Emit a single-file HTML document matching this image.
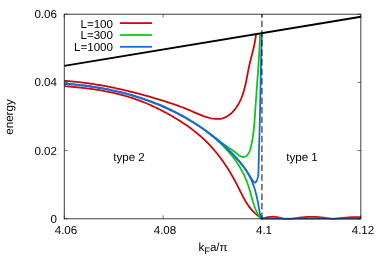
<!DOCTYPE html>
<html><head><meta charset="utf-8"><title>chart</title><style>
html,body{margin:0;padding:0;background:#fff}
body{width:382px;height:268px;position:relative;overflow:hidden;font-family:"Liberation Sans",sans-serif;font-size:11.6px;color:#000}
.t{position:absolute;white-space:nowrap;line-height:12px;will-change:transform;text-rendering:geometricPrecision}
.r{text-align:right}
.c{text-align:center}
</style></head><body>
<svg width="382" height="268" viewBox="0 0 382 268" style="position:absolute;left:0;top:0">
<rect width="382" height="268" fill="#fff"/>
<defs><clipPath id="c"><rect x="64.25" y="10" width="297.00" height="212"/></clipPath></defs>
<g clip-path="url(#c)">
<path d="M60.02,80.58 L61.32,80.65 L62.63,80.73 L63.93,80.81 L65.24,80.89 L66.55,80.98 L67.85,81.08 L69.16,81.19 L70.46,81.29 L71.77,81.41 L73.07,81.53 L74.38,81.66 L75.68,81.79 L76.99,81.92 L78.29,82.06 L79.60,82.21 L80.90,82.36 L82.21,82.52 L83.51,82.68 L84.81,82.85 L86.12,83.02 L87.42,83.20 L88.72,83.38 L90.03,83.57 L91.33,83.76 L92.63,83.96 L93.93,84.16 L95.23,84.37 L96.53,84.58 L97.83,84.79 L99.13,85.01 L100.43,85.24 L101.73,85.46 L103.02,85.70 L104.32,85.93 L105.62,86.18 L106.91,86.42 L108.21,86.67 L109.50,86.93 L110.80,87.19 L112.09,87.45 L113.38,87.71 L114.67,87.98 L115.96,88.26 L117.25,88.54 L118.54,88.82 L119.83,89.10 L121.11,89.39 L122.40,89.69 L123.68,89.98 L124.97,90.28 L126.25,90.59 L127.53,90.89 L128.81,91.20 L130.09,91.52 L131.37,91.84 L132.65,92.16 L133.93,92.48 L135.20,92.81 L136.47,93.14 L137.75,93.47 L139.02,93.81 L140.29,94.15 L141.56,94.49 L142.83,94.83 L144.09,95.18 L145.36,95.53 L146.62,95.88 L147.88,96.24 L149.14,96.60 L150.40,96.96 L151.66,97.32 L152.92,97.69 L154.17,98.06 L155.43,98.43 L156.68,98.80 L157.93,99.18 L159.18,99.55 L160.42,99.93 L161.67,100.32 L162.91,100.70 L164.16,101.09 L165.40,101.48 L166.64,101.88 L167.88,102.27 L169.11,102.68 L170.35,103.08 L171.58,103.49 L172.82,103.91 L174.05,104.33 L175.28,104.76 L176.52,105.20 L177.75,105.64 L178.98,106.08 L180.21,106.54 L181.43,107.00 L182.66,107.46 L183.89,107.94 L185.12,108.43 L186.35,108.92 L187.57,109.42 L188.80,109.93 L190.03,110.45 L191.26,110.98 L192.48,111.52 L193.71,112.06 L194.94,112.59 L196.18,113.13 L197.41,113.66 L198.65,114.19 L199.88,114.70 L201.13,115.20 L202.37,115.68 L203.62,116.14 L204.88,116.57 L206.14,116.98 L207.40,117.36 L208.67,117.71 L209.95,118.02 L211.23,118.30 L212.52,118.53 L213.81,118.72 L215.10,118.85 L216.39,118.93 L217.67,118.94 L218.94,118.89 L220.20,118.77 L221.43,118.56 L222.65,118.28 L223.85,117.91 L225.02,117.45 L226.17,116.90 L227.29,116.28 L228.37,115.57 L229.43,114.80 L230.46,113.97 L231.45,113.08 L232.41,112.14 L233.33,111.16 L234.22,110.14 L235.07,109.09 L235.88,108.02 L236.65,106.93 L237.38,105.81 L238.08,104.69 L238.73,103.54 L239.36,102.38 L239.95,101.21 L240.51,100.02 L241.05,98.82 L241.55,97.61 L242.02,96.39 L242.48,95.15 L242.90,93.91 L243.31,92.65 L243.69,91.39 L244.06,90.12 L244.40,88.85 L244.73,87.56 L245.05,86.28 L245.35,84.98 L245.64,83.69 L245.92,82.39 L246.19,81.08 L246.45,79.78 L246.71,78.47 L246.96,77.17 L247.21,75.86 L247.46,74.56 L247.71,73.26 L247.95,71.96 L248.21,70.66 L248.46,69.37 L248.72,68.09 L248.99,66.80 L249.27,65.53 L249.56,64.26 L249.85,63.00 L250.15,61.75 L250.46,60.49 L250.77,59.24 L251.09,58.00 L251.41,56.75 L251.73,55.50 L252.05,54.26 L252.37,53.01 L252.68,51.76 L252.99,50.50 L253.30,49.24 L253.60,47.98 L253.89,46.70 L254.17,45.42 L254.44,44.14 L254.70,42.84 L254.94,41.53 L255.17,40.21 L255.39,38.88 L255.59,37.53 L255.77,36.17 L255.93,34.80" fill="none" stroke="#cc0808" stroke-width="1.8" stroke-linejoin="round"/>
<path d="M59.95,85.71 L61.24,85.82 L62.53,85.94 L63.82,86.05 L65.11,86.16 L66.40,86.28 L67.69,86.39 L68.98,86.51 L70.27,86.63 L71.56,86.75 L72.84,86.87 L74.13,86.99 L75.41,87.12 L76.69,87.24 L77.98,87.37 L79.26,87.50 L80.54,87.64 L81.82,87.78 L83.10,87.92 L84.37,88.07 L85.65,88.22 L86.92,88.37 L88.20,88.53 L89.47,88.69 L90.74,88.86 L92.01,89.03 L93.28,89.20 L94.55,89.39 L95.81,89.58 L97.08,89.77 L98.34,89.97 L99.60,90.18 L100.86,90.39 L102.12,90.61 L103.38,90.83 L104.64,91.07 L105.89,91.30 L107.14,91.55 L108.39,91.80 L109.64,92.06 L110.89,92.33 L112.14,92.60 L113.38,92.88 L114.62,93.16 L115.87,93.46 L117.10,93.76 L118.34,94.06 L119.58,94.37 L120.81,94.69 L122.04,95.02 L123.27,95.35 L124.50,95.70 L125.73,96.04 L126.95,96.40 L128.17,96.76 L129.39,97.14 L130.61,97.52 L131.83,97.91 L133.04,98.30 L134.25,98.71 L135.46,99.12 L136.67,99.55 L137.87,99.98 L139.07,100.42 L140.27,100.87 L141.47,101.33 L142.67,101.80 L143.86,102.28 L145.05,102.77 L146.24,103.27 L147.43,103.77 L148.61,104.28 L149.79,104.80 L150.97,105.33 L152.14,105.87 L153.32,106.41 L154.49,106.96 L155.65,107.52 L156.82,108.08 L157.98,108.65 L159.14,109.23 L160.30,109.81 L161.45,110.40 L162.60,110.99 L163.75,111.59 L164.90,112.19 L166.04,112.81 L167.17,113.42 L168.31,114.05 L169.44,114.67 L170.57,115.31 L171.69,115.95 L172.81,116.60 L173.92,117.25 L175.03,117.91 L176.14,118.58 L177.24,119.25 L178.33,119.93 L179.43,120.61 L180.51,121.30 L181.59,122.00 L182.67,122.71 L183.74,123.42 L184.80,124.14 L185.86,124.86 L186.92,125.59 L187.96,126.33 L189.00,127.08 L190.04,127.83 L191.07,128.59 L192.09,129.36 L193.11,130.13 L194.11,130.91 L195.12,131.70 L196.11,132.50 L197.10,133.30 L198.08,134.12 L199.05,134.94 L200.02,135.77 L200.98,136.60 L201.93,137.45 L202.87,138.31 L203.81,139.17 L204.73,140.04 L205.65,140.93 L206.56,141.82 L207.46,142.72 L208.35,143.63 L209.24,144.55 L210.11,145.48 L210.98,146.42 L211.84,147.37 L212.69,148.32 L213.53,149.29 L214.37,150.26 L215.20,151.24 L216.01,152.23 L216.82,153.22 L217.63,154.22 L218.42,155.23 L219.21,156.25 L219.98,157.28 L220.75,158.31 L221.52,159.34 L222.27,160.39 L223.02,161.44 L223.76,162.50 L224.49,163.56 L225.21,164.63 L225.93,165.70 L226.64,166.78 L227.34,167.86 L228.03,168.95 L228.71,170.05 L229.39,171.15 L230.06,172.25 L230.73,173.36 L231.38,174.47 L232.03,175.59 L232.67,176.71 L233.30,177.83 L233.93,178.96 L234.55,180.09 L235.16,181.22 L235.77,182.36 L236.37,183.50 L236.96,184.64 L237.54,185.79 L238.12,186.94 L238.69,188.08 L239.26,189.23 L239.82,190.38 L240.39,191.53 L240.95,192.67 L241.52,193.81 L242.10,194.95 L242.68,196.08 L243.27,197.21 L243.88,198.33 L244.49,199.44 L245.12,200.54 L245.76,201.63 L246.43,202.70 L247.11,203.77 L247.81,204.82 L248.54,205.86 L249.29,206.89 L250.07,207.89 L250.88,208.89 L251.71,209.86 L252.58,210.81 L253.48,211.74 L254.42,212.66 L255.38,213.55 L256.36,214.41 L257.36,215.26 L258.39,216.07 L259.43,216.87 L260.48,217.63 L261.55,218.37" fill="none" stroke="#cc0808" stroke-width="1.8" stroke-linejoin="round"/>
<path d="M261.00,218.95 L262.00,218.79 L263.00,218.48 L264.00,218.18 L265.00,217.90 L266.00,217.63 L267.00,217.39 L268.00,217.19 L269.00,217.02 L270.00,216.89 L271.00,216.80 L272.00,216.76 L273.00,216.76 L274.00,216.80 L275.00,216.89 L276.00,217.02 L277.00,217.19 L278.00,217.39 L279.00,217.63 L280.00,217.90 L281.00,218.18 L282.00,218.48 L283.00,218.79 L284.00,218.95 L285.00,218.95 L286.00,218.95 L287.00,218.95 L288.00,218.95 L289.00,218.95 L290.00,218.95 L291.00,218.95 L292.00,218.79 L293.00,218.63 L294.00,218.47 L295.00,218.32 L296.00,218.16 L297.00,218.02 L298.00,217.88 L299.00,217.74 L300.00,217.61 L301.00,217.49 L302.00,217.38 L303.00,217.28 L304.00,217.19 L305.00,217.11 L306.00,217.03 L307.00,216.97 L308.00,216.93 L309.00,216.89 L310.00,216.86 L311.00,216.85 L312.00,216.85 L313.00,216.86 L314.00,216.89 L315.00,216.93 L316.00,216.97 L317.00,217.03 L318.00,217.11 L319.00,217.19 L320.00,217.28 L321.00,217.38 L322.00,217.49 L323.00,217.61 L324.00,217.74 L325.00,217.88 L326.00,218.02 L327.00,218.16 L328.00,218.32 L329.00,218.47 L330.00,218.63 L331.00,218.79 L332.00,218.95 L333.00,218.95 L334.00,218.95 L335.00,218.83 L336.00,218.70 L337.00,218.58 L338.00,218.46 L339.00,218.34 L340.00,218.23 L341.00,218.12 L342.00,218.01 L343.00,217.90 L344.00,217.80 L345.00,217.71 L346.00,217.62 L347.00,217.54 L348.00,217.46 L349.00,217.39 L350.00,217.33 L351.00,217.27 L352.00,217.22 L353.00,217.18 L354.00,217.15 L355.00,217.13 L356.00,217.11 L357.00,217.10 L358.00,217.10 L359.00,217.11 L360.00,217.13 L361.00,217.15" fill="none" stroke="#cc0808" stroke-width="1.8" stroke-linejoin="round"/>
<path d="M206.27,131.22 L206.98,131.72 L207.69,132.23 L208.39,132.74 L209.10,133.25 L209.80,133.77 L210.51,134.28 L211.21,134.80 L211.91,135.32 L212.61,135.84 L213.31,136.37 L214.01,136.90 L214.71,137.42 L215.41,137.95 L216.11,138.48 L216.80,139.01 L217.50,139.54 L218.20,140.06 L218.89,140.59 L219.59,141.11 L220.28,141.64 L220.98,142.16 L221.67,142.68 L222.36,143.19 L223.06,143.70 L223.75,144.21 L224.44,144.72 L225.13,145.22 L225.83,145.71 L226.52,146.20 L227.21,146.69 L227.90,147.17 L228.59,147.64 L229.28,148.12 L229.98,148.59 L230.67,149.06 L231.36,149.54 L232.06,150.02 L232.76,150.51 L233.47,151.01 L234.17,151.52 L234.88,152.05 L235.60,152.58 L236.32,153.14 L237.04,153.71 L237.77,154.29 L238.50,154.86 L239.24,155.39 L239.99,155.88 L240.74,156.30 L241.50,156.64 L242.27,156.87 L243.05,156.98 L243.83,156.95 L244.62,156.78 L245.39,156.46 L246.12,156.03 L246.79,155.49 L247.40,154.86 L247.95,154.17 L248.45,153.42 L248.90,152.64 L249.29,151.83 L249.64,151.01 L249.95,150.20 L250.22,149.37 L250.46,148.55 L250.69,147.72 L250.89,146.88 L251.09,146.04 L251.28,145.21 L251.46,144.36 L251.64,143.52 L251.81,142.67 L251.98,141.82 L252.13,140.97 L252.29,140.12 L252.43,139.27 L252.58,138.42 L252.71,137.56 L252.84,136.70 L252.97,135.85 L253.09,134.99 L253.21,134.13 L253.32,133.28 L253.43,132.42 L253.53,131.56 L253.63,130.70 L253.73,129.84 L253.82,128.98 L253.91,128.12 L254.00,127.26 L254.08,126.40 L254.16,125.54 L254.24,124.68 L254.31,123.82 L254.38,122.96 L254.45,122.10 L254.52,121.24 L254.59,120.37 L254.65,119.51 L254.71,118.65 L254.77,117.79 L254.83,116.93 L254.89,116.06 L254.95,115.20 L255.01,114.34 L255.06,113.48 L255.12,112.61 L255.17,111.75 L255.23,110.89 L255.28,110.03 L255.34,109.16 L255.39,108.30 L255.45,107.44 L255.51,106.57 L255.56,105.71 L255.62,104.85 L255.68,103.99 L255.74,103.12 L255.80,102.26 L255.86,101.40 L255.92,100.54 L255.98,99.67 L256.04,98.81 L256.10,97.95 L256.16,97.09 L256.22,96.22 L256.28,95.36 L256.35,94.50 L256.41,93.64 L256.47,92.78 L256.53,91.91 L256.60,91.05 L256.66,90.19 L256.72,89.33 L256.79,88.46 L256.85,87.60 L256.91,86.74 L256.98,85.88 L257.04,85.02 L257.11,84.15 L257.17,83.29 L257.23,82.43 L257.30,81.57 L257.36,80.70 L257.42,79.84 L257.49,78.98 L257.55,78.12 L257.61,77.26 L257.67,76.39 L257.74,75.53 L257.80,74.67 L257.86,73.81 L257.92,72.94 L257.98,72.08 L258.04,71.22 L258.11,70.36 L258.17,69.49 L258.23,68.63 L258.28,67.77 L258.34,66.91 L258.40,66.04 L258.46,65.18 L258.52,64.32 L258.57,63.46 L258.63,62.59 L258.69,61.73 L258.74,60.87 L258.80,60.01 L258.85,59.14 L258.90,58.28 L258.96,57.42 L259.01,56.55 L259.06,55.69 L259.11,54.83 L259.16,53.97 L259.21,53.10 L259.26,52.24 L259.31,51.38 L259.35,50.51 L259.40,49.65 L259.44,48.79 L259.49,47.92 L259.53,47.06 L259.57,46.20 L259.61,45.33 L259.65,44.47 L259.69,43.60 L259.73,42.74 L259.77,41.88 L259.80,41.01 L259.84,40.15 L259.87,39.28 L259.90,38.42 L259.93,37.56 L259.96,36.69 L259.99,35.83 L260.02,34.96 L260.05,34.10" fill="none" stroke="#10c810" stroke-width="1.8" stroke-linejoin="round"/>
<path d="M206.35,131.18 L206.78,131.50 L207.20,131.82 L207.62,132.14 L208.03,132.47 L208.45,132.79 L208.87,133.12 L209.28,133.45 L209.70,133.78 L210.11,134.11 L210.52,134.44 L210.93,134.77 L211.34,135.11 L211.75,135.45 L212.16,135.78 L212.56,136.12 L212.97,136.46 L213.37,136.81 L213.78,137.15 L214.18,137.49 L214.58,137.84 L214.98,138.19 L215.38,138.54 L215.78,138.89 L216.17,139.24 L216.57,139.59 L216.96,139.95 L217.35,140.31 L217.74,140.66 L218.14,141.02 L218.52,141.38 L218.91,141.75 L219.30,142.11 L219.68,142.48 L220.07,142.84 L220.45,143.21 L220.83,143.58 L221.21,143.95 L221.59,144.32 L221.97,144.70 L222.35,145.07 L222.72,145.45 L223.10,145.83 L223.47,146.21 L223.84,146.59 L224.21,146.98 L224.58,147.36 L224.95,147.75 L225.31,148.13 L225.67,148.52 L226.04,148.91 L226.40,149.31 L226.76,149.70 L227.12,150.09 L227.47,150.49 L227.83,150.89 L228.18,151.29 L228.53,151.69 L228.88,152.09 L229.23,152.50 L229.57,152.90 L229.91,153.31 L230.26,153.72 L230.60,154.12 L230.93,154.54 L231.27,154.95 L231.61,155.36 L231.94,155.78 L232.27,156.19 L232.60,156.61 L232.92,157.03 L233.25,157.45 L233.57,157.88 L233.89,158.30 L234.20,158.72 L234.52,159.15 L234.83,159.58 L235.14,160.01 L235.45,160.44 L235.76,160.87 L236.06,161.31 L236.36,161.74 L236.66,162.18 L236.96,162.61 L237.25,163.05 L237.55,163.49 L237.83,163.94 L238.12,164.38 L238.41,164.82 L238.69,165.27 L238.97,165.72 L239.24,166.17 L239.52,166.62 L239.79,167.07 L240.06,167.52 L240.32,167.98 L240.59,168.43 L240.85,168.89 L241.11,169.35 L241.36,169.81 L241.62,170.27 L241.87,170.73 L242.12,171.19 L242.36,171.66 L242.61,172.12 L242.85,172.59 L243.08,173.06 L243.32,173.53 L243.55,174.00 L243.78,174.47 L244.01,174.95 L244.23,175.42 L244.46,175.90 L244.68,176.38 L244.89,176.86 L245.11,177.34 L245.32,177.82 L245.53,178.30 L245.73,178.79 L245.94,179.27 L246.14,179.76 L246.33,180.25 L246.53,180.74 L246.72,181.23 L246.91,181.72 L247.10,182.22 L247.28,182.71 L247.46,183.21 L247.64,183.70 L247.82,184.20 L247.99,184.70 L248.16,185.20 L248.33,185.71 L248.49,186.21 L248.65,186.71 L248.81,187.22 L248.97,187.73 L249.12,188.23 L249.28,188.74 L249.43,189.25 L249.58,189.76 L249.72,190.27 L249.87,190.79 L250.01,191.30 L250.16,191.81 L250.30,192.33 L250.44,192.84 L250.58,193.35 L250.72,193.87 L250.86,194.38 L251.00,194.89 L251.14,195.41 L251.28,195.92 L251.42,196.44 L251.56,196.95 L251.70,197.46 L251.84,197.98 L251.98,198.49 L252.13,199.00 L252.27,199.51 L252.42,200.02 L252.57,200.53 L252.72,201.04 L252.87,201.55 L253.02,202.06 L253.18,202.56 L253.33,203.07 L253.49,203.57 L253.66,204.07 L253.82,204.58 L253.99,205.07 L254.16,205.57 L254.33,206.07 L254.51,206.56 L254.69,207.06 L254.88,207.55 L255.07,208.04 L255.26,208.53 L255.46,209.01 L255.66,209.50 L255.87,209.98 L256.08,210.46 L256.29,210.94 L256.51,211.41 L256.74,211.88 L256.97,212.35 L257.21,212.82 L257.45,213.28 L257.70,213.75 L257.95,214.21 L258.21,214.66 L258.48,215.11 L258.75,215.56 L259.03,216.01 L259.31,216.46 L259.61,216.90 L259.91,217.33 L260.21,217.77 L260.53,218.20 L260.85,218.63" fill="none" stroke="#10c810" stroke-width="1.8" stroke-linejoin="round"/>
<path d="M261,218.55 H360.8" fill="none" stroke="#10c810" stroke-width="1.5" stroke-linejoin="round"/>
<path d="M60.06,83.18 L61.94,83.30 L63.82,83.43 L65.70,83.56 L67.58,83.71 L69.46,83.87 L71.35,84.04 L73.23,84.21 L75.12,84.40 L77.00,84.59 L78.89,84.80 L80.77,85.02 L82.66,85.24 L84.54,85.48 L86.43,85.72 L88.32,85.98 L90.20,86.24 L92.08,86.52 L93.97,86.81 L95.85,87.11 L97.73,87.42 L99.61,87.74 L101.49,88.07 L103.37,88.41 L105.24,88.76 L107.12,89.12 L108.99,89.50 L110.86,89.89 L112.72,90.28 L114.59,90.69 L116.45,91.11 L118.31,91.55 L120.17,91.99 L122.02,92.45 L123.87,92.92 L125.72,93.40 L127.56,93.89 L129.40,94.39 L131.24,94.91 L133.07,95.44 L134.90,95.98 L136.73,96.54 L138.55,97.10 L140.36,97.68 L142.18,98.28 L143.98,98.88 L145.78,99.50 L147.58,100.13 L149.37,100.78 L151.16,101.44 L152.94,102.11 L154.72,102.79 L156.49,103.49 L158.25,104.20 L160.01,104.93 L161.76,105.67 L163.51,106.42 L165.25,107.19 L166.98,107.97 L168.71,108.77 L170.43,109.58 L172.14,110.41 L173.85,111.25 L175.55,112.10 L177.24,112.97 L178.92,113.85 L180.60,114.75 L182.26,115.66 L183.92,116.59 L185.58,117.53 L187.22,118.49 L188.86,119.46 L190.48,120.45 L192.10,121.45 L193.71,122.46 L195.31,123.49 L196.90,124.53 L198.48,125.59 L200.06,126.66 L201.62,127.74 L203.17,128.84 L204.72,129.95 L206.25,131.08 L207.77,132.21 L209.29,133.37 L210.79,134.53 L212.28,135.71 L213.76,136.90 L215.23,138.10 L216.69,139.32 L218.14,140.55 L219.58,141.79 L221.01,143.04 L222.42,144.31 L223.83,145.59 L225.22,146.88 L226.60,148.19 L227.96,149.50 L229.32,150.83 L230.66,152.17 L231.99,153.52 L233.31,154.89 L234.61,156.26 L235.90,157.65 L237.17,159.06 L238.43,160.48 L239.67,161.92 L240.89,163.38 L242.09,164.86 L243.27,166.36 L244.43,167.89 L245.56,169.44 L246.67,171.02 L247.75,172.63 L248.81,174.26 L249.84,175.93 L250.86,177.60 L251.90,179.26 L252.99,180.86 L254.15,182.34 L255.32,182.68 L256.34,181.37 L257.12,179.77 L257.68,178.05 L258.06,176.23 L258.31,174.34 L258.44,172.39 L258.52,170.42 L258.56,168.43 L258.60,166.46 L258.64,164.50 L258.69,162.55 L258.73,160.60 L258.78,158.67 L258.83,156.75 L258.89,154.83 L258.94,152.92 L259.00,151.02 L259.05,149.12 L259.11,147.23 L259.16,145.34 L259.22,143.45 L259.27,141.56 L259.33,139.68 L259.38,137.79 L259.43,135.91 L259.49,134.02 L259.54,132.13 L259.59,130.24 L259.63,128.35 L259.68,126.46 L259.73,124.56 L259.77,122.67 L259.82,120.77 L259.86,118.87 L259.90,116.97 L259.94,115.07 L259.99,113.17 L260.03,111.27 L260.07,109.37 L260.11,107.47 L260.15,105.56 L260.18,103.66 L260.22,101.75 L260.26,99.85 L260.30,97.94 L260.34,96.03 L260.37,94.13 L260.41,92.22 L260.45,90.31 L260.49,88.40 L260.53,86.49 L260.56,84.59 L260.60,82.68 L260.64,80.77 L260.68,78.86 L260.72,76.95 L260.76,75.04 L260.80,73.14 L260.84,71.23 L260.88,69.32 L260.93,67.42 L260.97,65.51 L261.02,63.60 L261.06,61.70 L261.11,59.79 L261.15,57.89 L261.20,55.99 L261.25,54.08 L261.30,52.18 L261.35,50.28 L261.41,48.38 L261.46,46.48 L261.52,44.58 L261.57,42.69 L261.63,40.79 L261.69,38.90 L261.76,37.00 L261.82,35.11 L261.89,33.22" fill="none" stroke="#1a6ad4" stroke-width="1.8" stroke-linejoin="round"/>
<path d="M59.99,83.71 L61.30,83.77 L62.62,83.84 L63.93,83.92 L65.25,84.00 L66.56,84.08 L67.88,84.17 L69.19,84.27 L70.51,84.37 L71.82,84.48 L73.14,84.59 L74.45,84.71 L75.76,84.83 L77.08,84.96 L78.39,85.10 L79.71,85.24 L81.02,85.38 L82.33,85.53 L83.64,85.69 L84.96,85.85 L86.27,86.02 L87.58,86.19 L88.89,86.37 L90.20,86.55 L91.51,86.74 L92.82,86.93 L94.12,87.13 L95.43,87.34 L96.74,87.55 L98.04,87.77 L99.35,87.99 L100.65,88.22 L101.95,88.45 L103.26,88.69 L104.56,88.94 L105.86,89.19 L107.15,89.44 L108.45,89.71 L109.75,89.97 L111.04,90.25 L112.33,90.53 L113.63,90.81 L114.92,91.10 L116.21,91.40 L117.50,91.70 L118.78,92.01 L120.07,92.33 L121.35,92.65 L122.63,92.97 L123.91,93.30 L125.19,93.64 L126.47,93.98 L127.74,94.33 L129.02,94.69 L130.29,95.05 L131.56,95.42 L132.82,95.79 L134.09,96.17 L135.35,96.55 L136.62,96.95 L137.88,97.34 L139.13,97.75 L140.39,98.16 L141.64,98.57 L142.89,98.99 L144.14,99.42 L145.39,99.85 L146.63,100.29 L147.87,100.74 L149.11,101.19 L150.35,101.65 L151.58,102.11 L152.82,102.58 L154.05,103.06 L155.27,103.54 L156.50,104.03 L157.72,104.52 L158.94,105.02 L160.15,105.53 L161.37,106.04 L162.58,106.56 L163.78,107.09 L164.99,107.62 L166.19,108.16 L167.39,108.71 L168.58,109.26 L169.77,109.82 L170.96,110.38 L172.15,110.95 L173.33,111.53 L174.51,112.11 L175.69,112.70 L176.86,113.30 L178.03,113.90 L179.20,114.51 L180.36,115.12 L181.52,115.74 L182.68,116.37 L183.83,117.01 L184.98,117.65 L186.12,118.30 L187.26,118.95 L188.40,119.61 L189.53,120.28 L190.66,120.95 L191.79,121.63 L192.91,122.32 L194.03,123.01 L195.15,123.71 L196.26,124.42 L197.36,125.14 L198.47,125.86 L199.56,126.58 L200.66,127.32 L201.75,128.06 L202.83,128.80 L203.92,129.56 L204.99,130.32 L206.07,131.09 L207.13,131.86 L208.20,132.64 L209.26,133.43 L210.31,134.22 L211.36,135.02 L212.41,135.83 L213.45,136.65 L214.49,137.47 L215.52,138.30 L216.55,139.13 L217.57,139.98 L218.59,140.82 L219.60,141.68 L220.61,142.54 L221.61,143.41 L222.61,144.29 L223.60,145.18 L224.59,146.07 L225.57,146.96 L226.55,147.87 L227.52,148.78 L228.48,149.70 L229.43,150.63 L230.38,151.56 L231.32,152.51 L232.25,153.46 L233.17,154.41 L234.08,155.38 L234.98,156.35 L235.87,157.33 L236.75,158.32 L237.62,159.32 L238.48,160.32 L239.33,161.34 L240.16,162.36 L240.98,163.39 L241.79,164.42 L242.59,165.47 L243.37,166.52 L244.14,167.59 L244.89,168.66 L245.62,169.74 L246.34,170.84 L247.03,171.94 L247.71,173.06 L248.37,174.18 L249.01,175.32 L249.62,176.47 L250.21,177.63 L250.78,178.80 L251.33,179.99 L251.85,181.19 L252.35,182.40 L252.84,183.62 L253.29,184.85 L253.74,186.08 L254.16,187.33 L254.56,188.59 L254.94,189.85 L255.31,191.12 L255.67,192.40 L256.00,193.68 L256.33,194.97 L256.64,196.26 L256.93,197.55 L257.22,198.85 L257.49,200.16 L257.75,201.46 L258.00,202.76 L258.25,204.07 L258.49,205.38 L258.72,206.68 L258.94,207.99 L259.17,209.29 L259.39,210.60 L259.61,211.90 L259.83,213.19 L260.05,214.48 L260.28,215.77 L260.51,217.05 L260.75,218.33" fill="none" stroke="#1a6ad4" stroke-width="1.8" stroke-linejoin="round"/>
<path d="M261,218.75 H360.8" fill="none" stroke="#1a6ad4" stroke-width="1.5" stroke-linejoin="round"/>
</g>
<path d="M261.9,219.1 V14.1" stroke="#000" stroke-opacity="0.6" stroke-width="1.6" stroke-dasharray="6.4,3.2" fill="none"/>
<path d="M64.2,65.85 L361,16.8" stroke="#000" stroke-width="1.9" fill="none"/>
<rect x="64.25" y="14.20" width="296.60" height="204.60" fill="none" stroke="#1c1c1c" stroke-width="0.85"/>
<path d="M64.25,218.80 v-3.5 M64.25,14.20 v3.5 M64.25,218.80 h3.5 M360.85,218.80 h-3.5" stroke="#1c1c1c" stroke-width="0.6" fill="none"/>
<path d="M163.12,218.80 v-3.5 M163.12,14.20 v3.5 M64.25,150.60 h3.5 M360.85,150.60 h-3.5" stroke="#1c1c1c" stroke-width="0.6" fill="none"/>
<path d="M261.98,218.80 v-3.5 M261.98,14.20 v3.5 M64.25,82.40 h3.5 M360.85,82.40 h-3.5" stroke="#1c1c1c" stroke-width="0.6" fill="none"/>
<path d="M360.85,218.80 v-3.5 M360.85,14.20 v3.5 M64.25,14.20 h3.5 M360.85,14.20 h-3.5" stroke="#1c1c1c" stroke-width="0.6" fill="none"/>
<path d="M120,23.1 H152" stroke="#cc0808" stroke-width="1.8"/>
<path d="M120,35.0 H152" stroke="#10c810" stroke-width="1.8"/>
<path d="M120,46.8 H152" stroke="#1a6ad4" stroke-width="1.8"/>
</svg>
<div class="t r" style="left:11.2px;width:46px;top:213.8px">0</div>
<div class="t r" style="left:11.2px;width:46px;top:145.6px">0.02</div>
<div class="t r" style="left:11.2px;width:46px;top:77.4px">0.04</div>
<div class="t r" style="left:11.2px;width:46px;top:9.2px">0.06</div>
<div class="t c" style="left:45.9px;width:40px;top:225.4px">4.06</div>
<div class="t c" style="left:144.7px;width:40px;top:225.4px">4.08</div>
<div class="t c" style="left:243.6px;width:40px;top:225.4px">4.1</div>
<div class="t c" style="left:342.5px;width:40px;top:225.4px">4.12</div>
<div class="t r" style="left:60px;width:53px;top:18.5px">L=100</div>
<div class="t r" style="left:60px;width:53px;top:30.4px">L=300</div>
<div class="t r" style="left:60px;width:53px;top:42.1px">L=1000</div>
<div class="t c" style="left:99.4px;width:60px;top:152.3px">type 2</div>
<div class="t c" style="left:271.8px;width:60px;top:152.3px">type 1</div>
<div class="t c" style="left:182.6px;width:60px;top:242px">k<span style="font-size:9.3px;position:relative;top:3.2px">F</span>a/&pi;</div>
<div class="t c" style="left:-20px;width:60px;top:111px;transform:rotate(-90deg)">energy</div>
</body></html>
